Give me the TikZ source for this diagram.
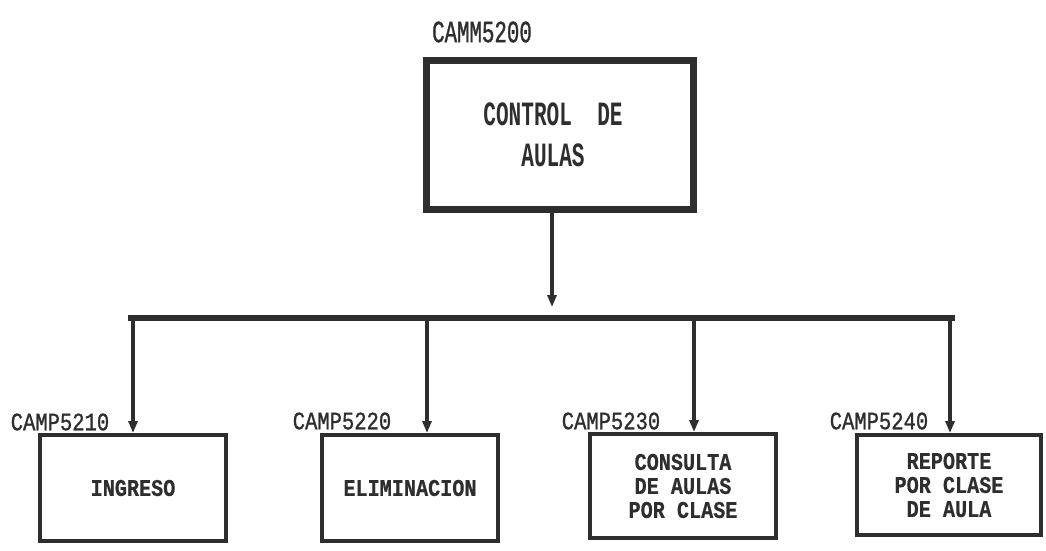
\documentclass[tikz,border=0pt]{standalone}
\usepackage{fontspec}
\usetikzlibrary{arrows.meta}
\newfontfamily\labfontA[FakeStretch=0.67,FakeBold=1]{Liberation Mono}
\newfontfamily\labfontB[FakeStretch=0.82,FakeBold=1]{Liberation Mono}
\newfontfamily\topfont[FakeStretch=0.62]{Liberation Mono}
\newfontfamily\boxfont[FakeStretch=0.84,FakeBold=0.5]{Liberation Mono}
\definecolor{ink}{HTML}{2E2E2E}
\tikzset{
  topbox/.style={draw=ink, line width=7pt, minimum width=267pt, minimum height=149pt, inner sep=0pt, align=center, text=ink,
    font=\topfont\bfseries\fontsize{34}{41}\selectfont},
  subbox/.style={draw=ink, line width=4pt, inner sep=0pt, align=center, text=ink,
    font=\boxfont\bfseries\fontsize{24}{24}\selectfont},
  codeA/.style={text=ink, inner sep=0pt, font=\labfontA\fontsize{31}{31}\selectfont},
  codeB/.style={text=ink, inner sep=0pt, font=\labfontB\fontsize{25}{25}\selectfont},
  bus/.style={draw=ink, line width=6pt},
  drop/.style={draw=ink, line width=4pt, -{Triangle[length=12pt,width=9pt]}},
}
\begin{document}
\begin{tikzpicture}[x=1pt,y=-1pt]
\useasboundingbox (0,0) rectangle (1046,550);
\fill[white] (0,0) rectangle (1046,550);

\node[topbox] (top) at (560,135) {CONTROL~~DE\hspace*{14pt}\\AULAS\hspace*{14pt}};
\node[codeA] (ltop) at (482,32) {CAMM5200};

\node[subbox, minimum width=186pt, minimum height=106pt] (b1) at (133,488) {INGRESO};
\node[subbox, minimum width=176pt, minimum height=106pt] (b2) at (410,488) {ELIMINACION};
\node[subbox, minimum width=186pt, minimum height=104pt] (b3) at (683,486) {CONSULTA\\DE AULAS\\POR CLASE};
\node[subbox, minimum width=184pt, minimum height=100pt] (b4) at (949,485) {REPORTE\\POR CLASE\\DE AULA};

\node[codeB] (l1) at (60,422) {CAMP5210};
\node[codeB] (l2) at (342,421) {CAMP5220};
\node[codeB] (l3) at (611,421) {CAMP5230};
\node[codeB] (l4) at (879,421) {CAMP5240};

\coordinate (jt) at (552,307);
\coordinate (busL) at (130,318);
\coordinate (busR) at (953,318);
\coordinate (d1) at (133,318);
\coordinate (d2) at (427,318);
\coordinate (d3) at (694,318);
\coordinate (d4) at (950,318);

\draw[drop] (top.south -| jt) -- (jt);
\draw[bus] ([xshift=-2pt]busL) -- ([xshift=2pt]busR);
\draw[drop] (d1) -- (b1.north -| d1);
\draw[drop] (d2) -- (b2.north -| d2);
\draw[drop] (d3) -- (b3.north -| d3);
\draw[drop] (d4) -- (b4.north -| d4);
\end{tikzpicture}
\end{document}
